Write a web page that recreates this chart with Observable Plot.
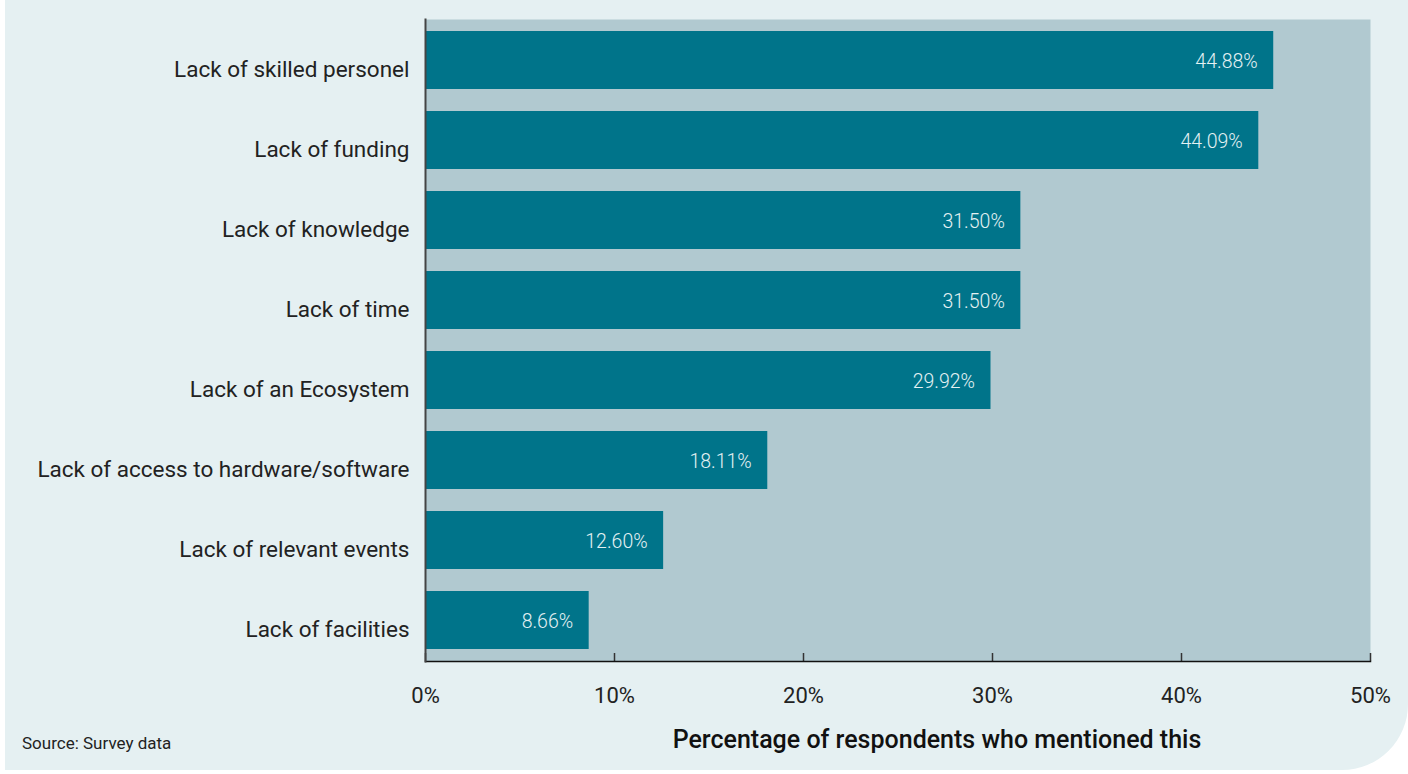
<!DOCTYPE html>
<html>
<head>
<meta charset="utf-8">
<script src="https://cdn.jsdelivr.net/npm/d3@7"></script>
<script src="https://cdn.jsdelivr.net/npm/@observablehq/plot@0.6"></script>
<style>
  html, body { margin: 0; padding: 0; background: #ffffff; }
  #panel {
    position: absolute; left: 5px; top: 0; width: 1403px; height: 770px;
    background: #e5f0f2; border-bottom-right-radius: 66px; overflow: hidden;
    font-family: Roboto, "Noto Sans", sans-serif;
  }
  #chart { position: absolute; left: 0; top: 0; }
  #xtitle {
    position: absolute; left: 664px; top: 725px; width: 536px; text-align: center;
    font-size: 25px; font-weight: 500; color: #111; white-space: nowrap;
  }
  #source {
    position: absolute; left: 17px; top: 733px; font-size: 17px; color: #222;
  }
</style>
</head>
<body>
<div id="panel">
  <div id="chart"></div>
  <div id="xtitle">Percentage of respondents who mentioned this</div>
  <div id="source">Source: Survey data</div>
</div>
<script>
const categories = [
  "Lack of skilled personel",
  "Lack of funding",
  "Lack of knowledge",
  "Lack of time",
  "Lack of an Ecosystem",
  "Lack of access to hardware/software",
  "Lack of relevant events",
  "Lack of facilities"
];
const values = [44.88, 44.09, 31.50, 31.50, 29.92, 18.11, 12.60, 8.66];
const xTicks = [0, 10, 20, 30, 40, 50];

const data = categories.map((c, i) => ({category: c, value: values[i]}));

const plotH = 661 - 19;
const chart = Plot.plot({
  width: 1403,
  height: 770,
  marginLeft: 420,
  marginRight: 38,
  marginTop: 19,
  marginBottom: 109,
  style: {background: "transparent", fontFamily: "Roboto, 'Noto Sans', sans-serif"},
  x: {domain: [0, 50]},
  y: {domain: categories, paddingInner: 0.28, paddingOuter: 0.14, label: null},
  marks: [
    Plot.frame({fill: "#b1c9d0", stroke: null}),
    Plot.barX(data, {x: "value", y: "category", fill: "#00748a"}),
    Plot.text(data, {
      x: "value", y: "category", text: d => d.value.toFixed(2) + "%",
      textAnchor: "end", dx: -16, dy: 1, fill: "#e4f1f3", fontSize: 19.5, fontWeight: 300
    }),
    Plot.ruleX(xTicks, {stroke: "#333", strokeWidth: 1.5, insetTop: plotH - 8}),
    Plot.frame({anchor: "bottom", stroke: "#111", strokeWidth: 1.5}),
    Plot.frame({anchor: "left", stroke: "#444", strokeWidth: 2}),
    Plot.axisX({
      ticks: xTicks, tickSize: 0, tickPadding: 26, tickFormat: d => d + "%",
      fontSize: 22, color: "#222", label: null
    }),
    Plot.axisY({
      tickSize: 0, tickPadding: 16, dy: 9, fontSize: 22.5, color: "#222", label: null
    })
  ]
});
document.getElementById("chart").appendChild(chart);
</script>
</body>
</html>
